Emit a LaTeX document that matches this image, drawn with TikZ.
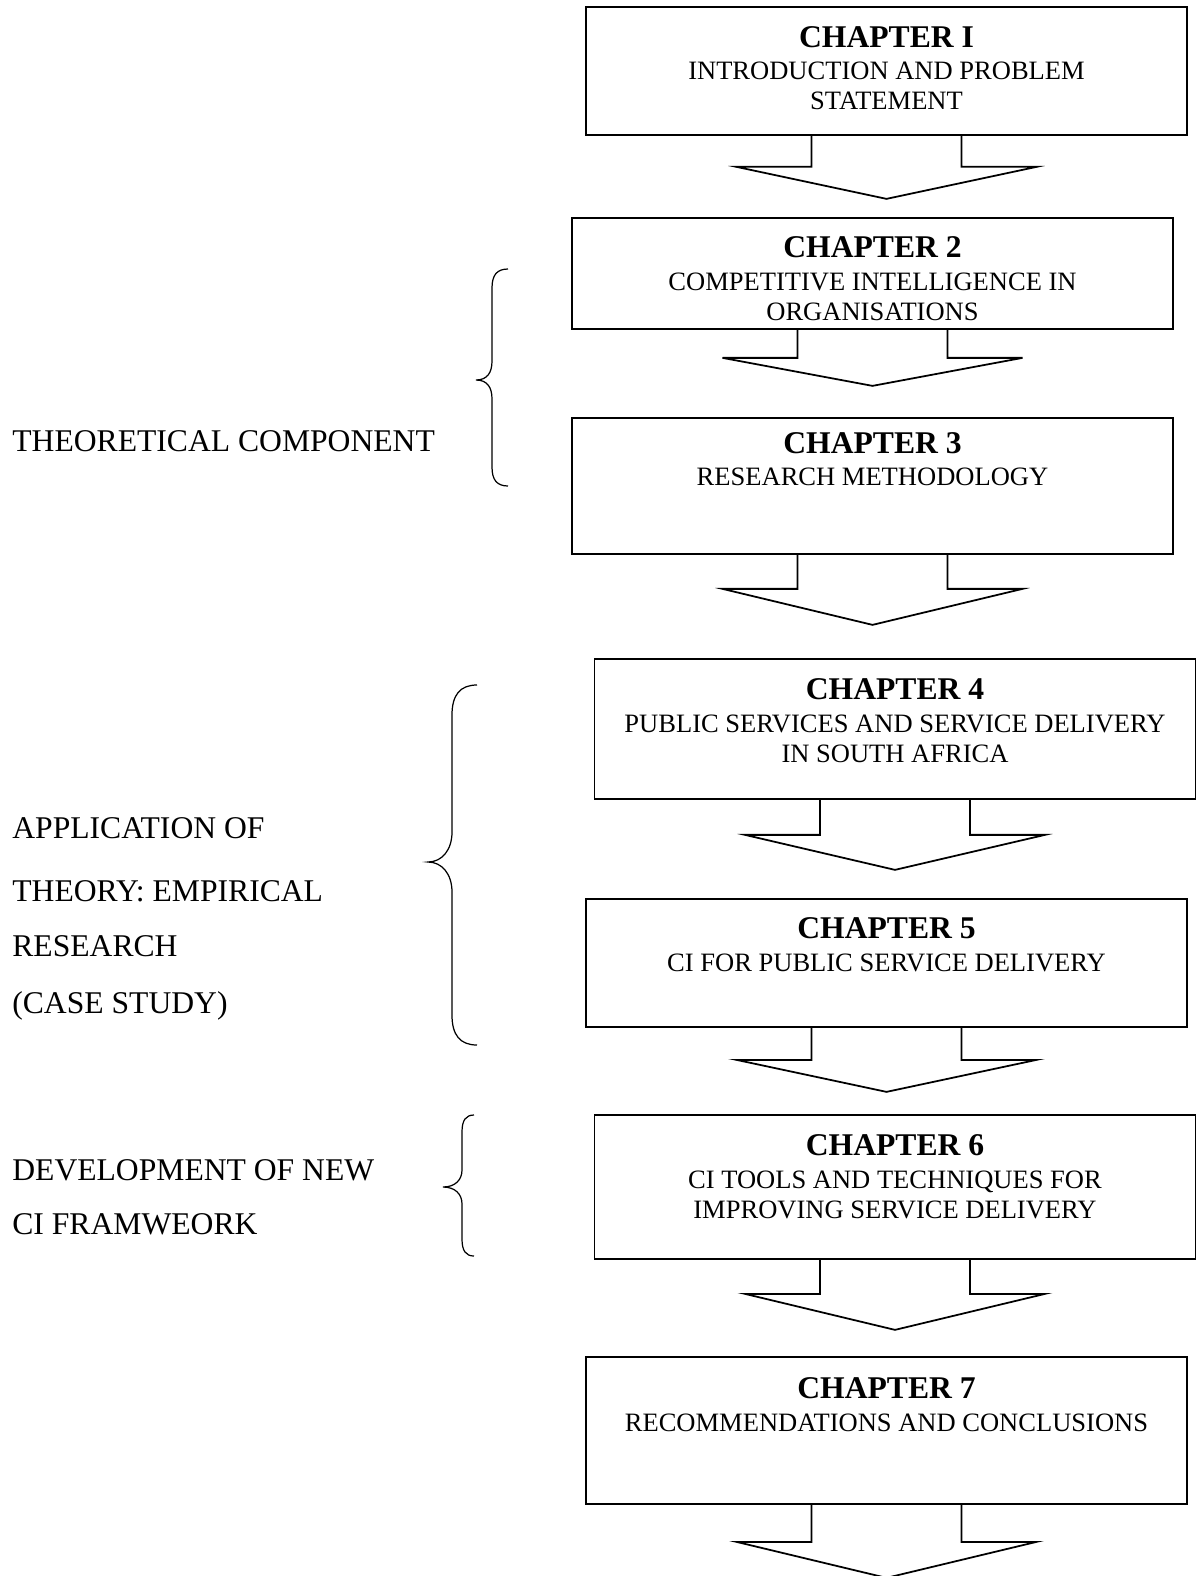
\documentclass[tikz,border=0pt]{standalone}
\usepackage{fontspec}
\setmainfont{Liberation Serif}
\usetikzlibrary{positioning}

\tikzset{
  chapbox/.style={draw, line width=1pt, minimum width=12.02cm, inner sep=0pt},
  chaptext/.style={align=center, inner sep=0pt, font=\fontsize{15.1}{17.1}\selectfont},
  sidetext/.style={anchor=base west, inner sep=0pt, font=\fontsize{18}{20}\selectfont},
  flowarrow/.style={draw, line width=1pt, line join=miter},
  sidebrace/.style={draw, line width=0.7pt},
}

\begin{document}
\begin{tikzpicture}[x=0.02cm, y=-0.02cm]
    \useasboundingbox (0,0) rectangle (1196,1576);

    % Chapter boxes
    \node[chapbox, minimum height=2.56cm] (c1) at (886.5,71) {};
    \node[chapbox, minimum height=2.22cm] (c2) at (872.5,273.5) {};
    \node[chapbox, minimum height=2.72cm] (c3) at (872.5,486) {};
    \node[chapbox, minimum height=2.80cm] (c4) at (895,729) {};
    \node[chapbox, minimum height=2.56cm] (c5) at (886.5,963) {};
    \node[chapbox, minimum height=2.88cm] (c6) at (895,1187) {};
    \node[chapbox, minimum height=2.94cm] (c7) at (886.5,1430.5) {};

    % Box texts
    \node[chaptext, below=0.40cm of c1.north] (t1) {{\fontsize{18}{18}\selectfont\bfseries CHAPTER I}\\[1.4pt] INTRODUCTION AND PROBLEM\\ STATEMENT};
    \node[chaptext, below=0.39cm of c2.north] (t2) {{\fontsize{18}{18}\selectfont\bfseries CHAPTER 2}\\[1.4pt] COMPETITIVE INTELLIGENCE IN\\ ORGANISATIONS};
    \node[chaptext, below=0.30cm of c3.north] (t3) {{\fontsize{18}{18}\selectfont\bfseries CHAPTER 3}\\[1.4pt] RESEARCH METHODOLOGY};
    \node[chaptext, below=0.41cm of c4.north] (t4) {{\fontsize{18}{18}\selectfont\bfseries CHAPTER 4}\\[1.4pt] PUBLIC SERVICES AND SERVICE DELIVERY\\ IN SOUTH AFRICA};
    \node[chaptext, below=0.39cm of c5.north] (t5) {{\fontsize{18}{18}\selectfont\bfseries CHAPTER 5}\\[1.4pt] CI FOR PUBLIC SERVICE DELIVERY};
    \node[chaptext, below=0.41cm of c6.north] (t6) {{\fontsize{18}{18}\selectfont\bfseries CHAPTER 6}\\[1.4pt] CI TOOLS AND TECHNIQUES FOR\\ IMPROVING SERVICE DELIVERY};
    \node[chaptext, below=0.43cm of c7.north] (t7) {{\fontsize{18}{18}\selectfont\bfseries CHAPTER 7}\\[1.4pt] RECOMMENDATIONS AND CONCLUSIONS};

    % Block arrows
    \draw[flowarrow] (c1.south) ++(-75,0) -- ++(0,31) -- ++(-75,0) -- ++(150,32) -- ++(150,-32) -- ++(-75,0) -- ++(0,-31);
    \draw[flowarrow] (c2.south) ++(-75,0) -- ++(0,28) -- ++(-75,0) -- ++(150,28) -- ++(150,-28) -- ++(-75,0) -- ++(0,-28);
    \draw[flowarrow] (c3.south) ++(-75,0) -- ++(0,34) -- ++(-75,0) -- ++(150,36) -- ++(150,-36) -- ++(-75,0) -- ++(0,-34);
    \draw[flowarrow] (c4.south) ++(-75,0) -- ++(0,35) -- ++(-75,0) -- ++(150,35) -- ++(150,-35) -- ++(-75,0) -- ++(0,-35);
    \draw[flowarrow] (c5.south) ++(-75,0) -- ++(0,32) -- ++(-75,0) -- ++(150,32) -- ++(150,-32) -- ++(-75,0) -- ++(0,-32);
    \draw[flowarrow] (c6.south) ++(-75,0) -- ++(0,34) -- ++(-75,0) -- ++(150,36) -- ++(150,-36) -- ++(-75,0) -- ++(0,-34);
    \draw[flowarrow] (c7.south) ++(-75,0) -- ++(0,37) -- ++(-75,0) -- ++(150,36) -- ++(150,-36) -- ++(-75,0) -- ++(0,-37);

    % Side labels
    \node[sidetext] (s1) at (12,451) {THEORETICAL COMPONENT};
    \node[sidetext] (s2) at (12,838) {APPLICATION OF};
    \node[sidetext] (s3) at (12,901) {THEORY: EMPIRICAL};
    \node[sidetext] (s4) at (12,956) {RESEARCH};
    \node[sidetext] (s5) at (12,1013) {(CASE STUDY)};
    \node[sidetext] (s6) at (12,1180) {DEVELOPMENT OF NEW};
    \node[sidetext] (s7) at (12,1234) {CI FRAMWEORK};

    % Braces
    \draw[sidebrace] (508,269) .. controls (497,269) and (492,275) .. (492,288) -- (492,361) .. controls (492,373) and (487,380) .. (476,380) .. controls (487,380) and (492,387) .. (492,399) -- (492,467) .. controls (492,480) and (497,486) .. (508,486);
    \draw[sidebrace] (477,685) .. controls (460,685) and (452,695) .. (452,715) -- (452,832) .. controls (452,850) and (442,862) .. (428,862) .. controls (442,862) and (452,874) .. (452,892) -- (452,1015) .. controls (452,1035) and (460,1045) .. (477,1045);
    \draw[sidebrace] (474,1115) .. controls (466,1115) and (462,1120) .. (462,1132) -- (462,1170) .. controls (462,1180) and (455,1187) .. (443,1187) .. controls (455,1187) and (462,1194) .. (462,1204) -- (462,1239) .. controls (462,1251) and (466,1256) .. (474,1256);
\end{tikzpicture}
\end{document}
